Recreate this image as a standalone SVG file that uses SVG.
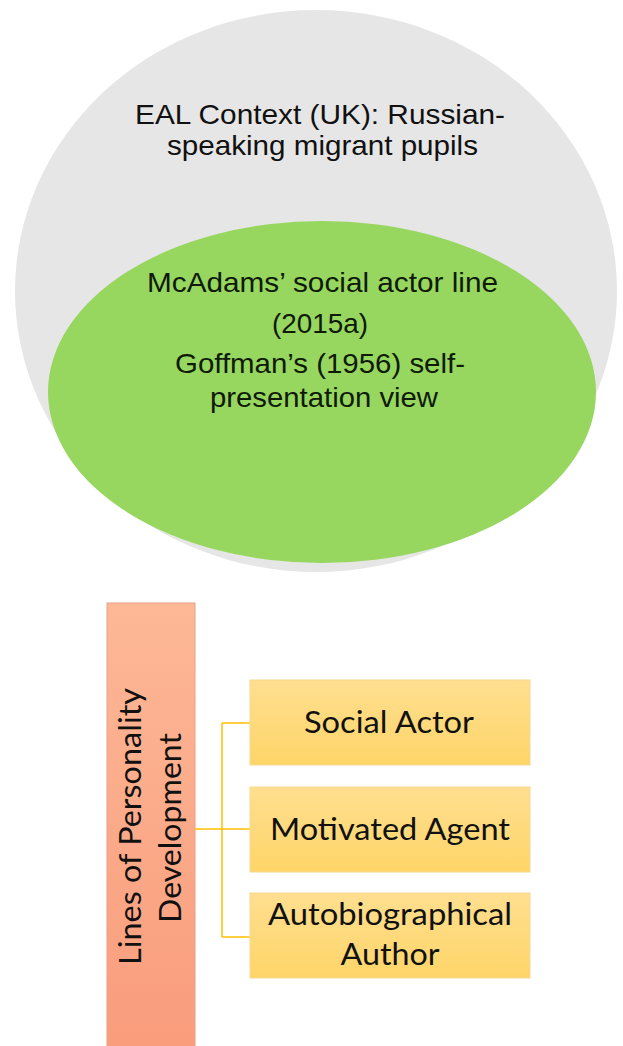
<svg xmlns="http://www.w3.org/2000/svg" width="623" height="1046" viewBox="0 0 623 1046">
<style>
.venn{font-family:"Liberation Sans",Arial,sans-serif;font-size:28px;fill:#111;text-anchor:middle}
.green{fill:#0f1a08}
.box{font-family:Lato,"Open Sans",sans-serif;font-size:31px;fill:#111;text-anchor:middle}
.ybox{fill:url(#yg);stroke:#f7d890;stroke-width:1}
.conn{fill:none;stroke:#ffc000;stroke-width:1.5}
</style>
<defs>
<linearGradient id="yg" x1="0" y1="0" x2="0" y2="1">
<stop offset="0" stop-color="#ffdf90"/>
<stop offset="1" stop-color="#fed568"/>
</linearGradient>
<linearGradient id="og" x1="0" y1="0" x2="0" y2="1">
<stop offset="0" stop-color="#fdb896"/>
<stop offset="1" stop-color="#f99c7c"/>
</linearGradient>
</defs>
<rect width="623" height="1046" fill="#fff"/>
<g id="context">
<ellipse cx="316" cy="291" rx="301" ry="281" fill="#e6e6e6"/>
<text class="venn" x="320" y="124" textLength="370" lengthAdjust="spacingAndGlyphs">EAL Context (UK): Russian-</text>
<text class="venn" x="322.5" y="155" textLength="311" lengthAdjust="spacingAndGlyphs">speaking migrant pupils</text>
</g>
<g id="social-actor-line">
<ellipse cx="322" cy="392" rx="274" ry="171" fill="#97d760"/>
<text class="venn green" x="322.5" y="292" textLength="351" lengthAdjust="spacingAndGlyphs">McAdams’ social actor line</text>
<text class="venn green" x="320" y="333" textLength="96" lengthAdjust="spacingAndGlyphs">(2015a)</text>
<text class="venn green" x="320" y="373" textLength="290" lengthAdjust="spacingAndGlyphs">Goffman’s (1956) self-</text>
<text class="venn green" x="324" y="407" textLength="228" lengthAdjust="spacingAndGlyphs">presentation view</text>
</g>
<g id="lines-of-personality">
<rect x="107" y="603" width="88" height="450" fill="url(#og)" stroke="#e8a088" stroke-width="1"/>
<text class="box" transform="translate(141,826.5) rotate(-90)" textLength="277" lengthAdjust="spacingAndGlyphs">Lines of Personality</text>
<text class="box" transform="translate(181,828) rotate(-90)" textLength="190" lengthAdjust="spacingAndGlyphs">Development</text>
</g>
<g id="connectors">
<path class="conn" d="M195 829H250M222 723V937M222 723H250M222 937H250"/>
</g>
<g id="social-actor">
<rect class="ybox" x="250" y="680" width="280" height="85"/>
<text class="box" x="389" y="733" textLength="170" lengthAdjust="spacingAndGlyphs">Social Actor</text>
</g>
<g id="motivated-agent">
<rect class="ybox" x="250" y="787" width="280" height="85"/>
<text class="box" x="390" y="840" textLength="240" lengthAdjust="spacingAndGlyphs">Motivated Agent</text>
</g>
<g id="autobiographical-author">
<rect class="ybox" x="250" y="893" width="280" height="85"/>
<text class="box" x="390" y="925" textLength="244" lengthAdjust="spacingAndGlyphs">Autobiographical</text>
<text class="box" x="390" y="965" textLength="99" lengthAdjust="spacingAndGlyphs">Author</text>
</g>
</svg>
